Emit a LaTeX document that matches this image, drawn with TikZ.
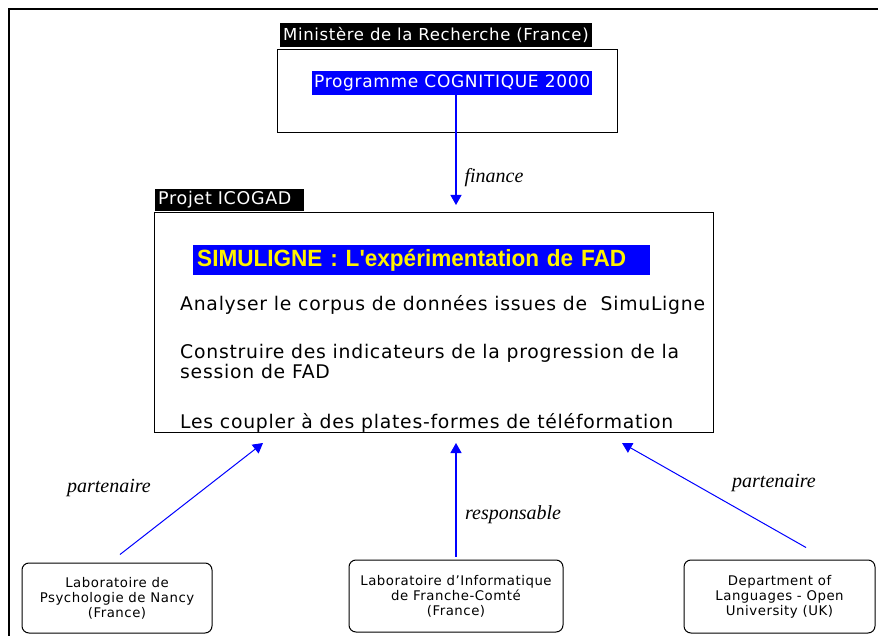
\documentclass[tikz,border=0pt]{standalone}
\usepackage{fontspec}
\setmainfont[LetterSpace=4]{DejaVu Sans}
\newfontfamily\titlefont[FakeStretch=0.96]{Liberation Sans}
\newfontfamily\relfont{Liberation Serif}
\usetikzlibrary{arrows.meta}

\tikzset{
    blacklabel/.style={fill=black,text=white,inner xsep=3pt,inner ysep=0pt,
        font=\fontsize{16.5}{19}\selectfont},
    bluelabel/.style={fill=blue,text=white,inner xsep=2pt,inner ysep=0pt,
        font=\fontsize{17}{20}\selectfont},
    bodytext/.style={anchor=base west,inner sep=0pt,align=left,
        font=\fontsize{18.8}{20}\selectfont},
    labo/.style={draw,rounded corners=7pt,line width=1pt,align=center,
        font=\fontsize{13.3}{15}\selectfont},
    relation/.style={font=\fontsize{20}{22}\selectfont\relfont\itshape,inner sep=0pt},
    flow/.style={draw=blue,line width=1.2pt,-{Triangle[width=11pt,length=10pt]}},
}

\begin{document}
\begin{tikzpicture}[x=1pt,y=-1pt]
    \useasboundingbox (0,0) rectangle (878,636);
    \draw[line width=2pt] (9,636) -- (9,9) -- (878,9);

    % ministere
    \node[blacklabel,anchor=west,minimum height=24pt] (ministere) at (280,35) {Ministère de la Recherche (France)};
    \node[draw,line width=1pt,minimum width=340pt,minimum height=83pt] (prog box) at (447,91.5) {};
    \node[bluelabel,anchor=west,minimum height=24pt] (cognitique) at (312,83) {Programme COGNITIQUE 2000};
    \coordinate (tip projet) at (456,205);
    \draw[flow] (cognitique.south -| tip projet) -- (tip projet)
        node[relation,pos=0.75,anchor=west,xshift=8pt] (finance) {finance};

    % projet
    \node[blacklabel,anchor=west,minimum height=22pt,text width=143pt,align=left,
        font=\fontsize{17.5}{19}\selectfont] (icogad) at (155,200) {Projet ICOGAD};
    \node[draw,line width=1pt,minimum width=559pt,minimum height=219pt] (projet) at (433.5,322.5) {};
    \node[fill=blue,text=yellow,anchor=west,text width=449pt,align=left,inner xsep=4pt,
        minimum height=30pt,inner ysep=0pt,font=\fontsize{23.5}{26}\selectfont\titlefont\bfseries]
        (simuligne) at (193,260) {SIMULIGNE : L'expérimentation de FAD};
    \node[bodytext] (analyser) at (180,310) {Analyser le corpus de données issues de \ SimuLigne};
    \node[bodytext] (construire) at (180,378) {Construire des indicateurs de la progression de la\\session de FAD};
    \node[bodytext] (coupler) at (180,428) {Les coupler à des plates-formes de téléformation};

    % laboratoires
    \node[labo,minimum width=190pt,minimum height=70pt] (nancy) at (117,598) {Laboratoire de\\Psychologie de Nancy\\(France)};
    \node[labo,minimum width=214pt,minimum height=72pt] (lifc) at (456,596) {Laboratoire d'Informatique\\de Franche-Comté\\(France)};
    \node[labo,minimum width=191pt,minimum height=73pt] (open) at (779.5,596.5) {Department of\\Languages - Open\\University (UK)};

    \coordinate (tip nancy) at (263,443);
    \coordinate (tip lifc) at (456,443);
    \coordinate (tip open) at (622,443);
    \draw[flow,line width=1pt] ([xshift=3pt,yshift=8pt]nancy.north) -- (tip nancy);
    \draw[flow] ([yshift=3pt]lifc.north) -- (tip lifc);
    \draw[flow,line width=1pt] ([xshift=26.5pt,yshift=12pt]open.north) -- (tip open);

    \node[relation] (part nancy) at (109,488) {partenaire};
    \node[relation,anchor=west] (resp lifc) at (465,515) {responsable};
    \node[relation] (part open) at (774,483) {partenaire};
\end{tikzpicture}
\end{document}
